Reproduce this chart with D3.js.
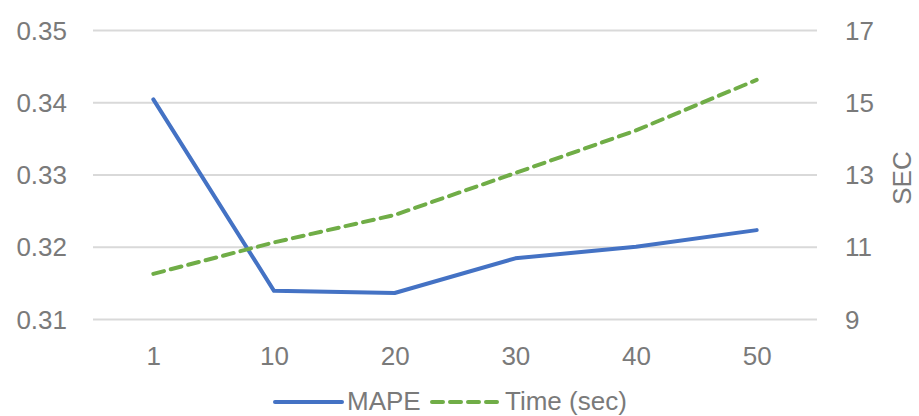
<!DOCTYPE html>
<html>
<head>
<meta charset="utf-8">
<script src="https://cdn.jsdelivr.net/npm/d3@7"></script>
<style>
  html, body { margin: 0; padding: 0; background: #fff; }
  svg { display: block; font-family: "Liberation Sans", Arial, sans-serif; }
  .tick text { fill: #7a7a7a; font-size: 26px; }
</style>
</head>
<body>
<svg id="chart" width="919" height="416"></svg>
<script>
// Number of trees vs. error and training time
const categories = ["1", "10", "20", "30", "40", "50"];
const mapeValues = [0.3404, 0.3139, 0.3136, 0.3184, 0.3200, 0.3223];
const timeValues = [10.25, 11.12, 11.88, 13.04, 14.22, 15.62];
const leftTicks = [0.31, 0.32, 0.33, 0.34, 0.35];
const rightTicks = [9, 11, 13, 15, 17];
const seriesNames = ["MAPE", "Time (sec)"];
const rightAxisTitle = "SEC";

const svg = d3.select("#chart");
const plot = { left: 93, right: 817, top: 30, bottom: 319 };
const lineWidth = 4;
const dashes = "11,7";

const x = d3.scalePoint().domain(categories)
  .range([plot.left, plot.right]).padding(0.5);
const yLeft = d3.scaleLinear().domain([0.31, 0.35]).range([plot.bottom, plot.top]);
const yRight = d3.scaleLinear().domain([9, 17]).range([plot.bottom, plot.top]);

// horizontal gridlines
svg.append("g")
  .attr("transform", `translate(${plot.left},0)`)
  .call(d3.axisLeft(yLeft).tickValues(leftTicks).tickSize(-(plot.right - plot.left)).tickFormat(""))
  .call(g => g.select(".domain").remove())
  .call(g => g.selectAll("line").attr("stroke", "#d9d9d9").attr("stroke-width", 2));

// left axis labels
svg.append("g")
  .attr("transform", `translate(${67},0)`)
  .call(d3.axisLeft(yLeft).tickValues(leftTicks).tickSize(0).tickPadding(0).tickFormat(d3.format(".2f")))
  .call(g => g.select(".domain").remove())
  .call(g => g.selectAll("text").attr("dy", "0.35em"));

// right axis labels
svg.append("g")
  .attr("transform", `translate(${845},0)`)
  .call(d3.axisRight(yRight).tickValues(rightTicks).tickSize(0).tickPadding(0))
  .call(g => g.select(".domain").remove())
  .call(g => g.selectAll("text").attr("dy", "0.35em"));

// category labels
svg.append("g")
  .attr("transform", `translate(0,${340})`)
  .call(d3.axisBottom(x).tickSize(0).tickPadding(0))
  .call(g => g.select(".domain").remove())
  .call(g => g.selectAll("text").attr("dy", "0.95em"));

// right axis title
svg.append("text")
  .attr("transform", `translate(911,178) rotate(-90)`)
  .attr("text-anchor", "middle")
  .attr("fill", "#7a7a7a")
  .style("font-size", "26px")
  .text(rightAxisTitle);

// MAPE series (left axis)
svg.append("path")
  .datum(mapeValues)
  .attr("fill", "none")
  .attr("stroke", "#4472c4")
  .attr("stroke-width", lineWidth)
  .attr("stroke-linejoin", "round")
  .attr("stroke-linecap", "round")
  .attr("d", d3.line().x((d, i) => x(categories[i])).y(d => yLeft(d)));

// training time series (right axis)
svg.append("path")
  .datum(timeValues)
  .attr("fill", "none")
  .attr("stroke", "#70ad47")
  .attr("stroke-width", lineWidth)
  .attr("stroke-dasharray", dashes)
  .attr("stroke-linecap", "round")
  .attr("stroke-linejoin", "round")
  .attr("d", d3.line().x((d, i) => x(categories[i])).y(d => yRight(d)));

// legend
const legend = svg.append("g").attr("transform", "translate(0,402)");
legend.append("line")
  .attr("x1", 275).attr("x2", 342).attr("y1", 0).attr("y2", 0)
  .attr("stroke", "#4472c4").attr("stroke-width", lineWidth).attr("stroke-linecap", "round");
legend.append("text")
  .attr("x", 347).attr("y", -1).attr("dy", "0.35em")
  .attr("fill", "#7a7a7a").style("font-size", "26px")
  .text(seriesNames[0]);
legend.append("line")
  .attr("x1", 432).attr("x2", 500).attr("y1", 0).attr("y2", 0)
  .attr("stroke", "#70ad47").attr("stroke-width", lineWidth)
  .attr("stroke-dasharray", dashes).attr("stroke-linecap", "round");
legend.append("text")
  .attr("x", 505).attr("y", -1).attr("dy", "0.35em")
  .attr("fill", "#7a7a7a").style("font-size", "26px")
  .text(seriesNames[1]);
</script>
</body>
</html>
